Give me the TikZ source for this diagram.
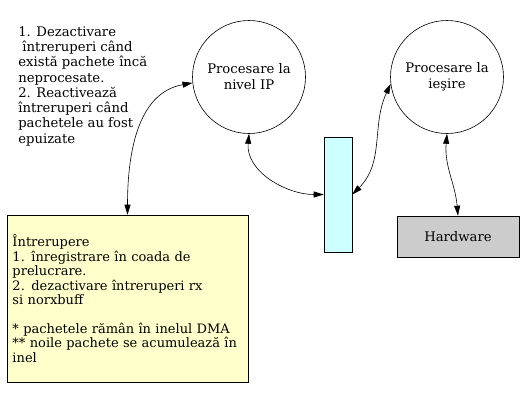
\documentclass[tikz,border=0pt]{standalone}
\usepackage{fontspec}
\setmainfont{DejaVu Serif}
\usetikzlibrary{arrows.meta}
\usetikzlibrary{positioning}

\definecolor{galben}{HTML}{FFFFCC}
\definecolor{cian}{HTML}{CCFFFF}
\definecolor{gri}{HTML}{CCCCCC}

\tikzset{
    every node/.style={font=\fontsize{13.2}{15.3}\selectfont},
    proces/.style={draw, circle, minimum size=113pt, inner sep=0pt, align=center,
        font=\fontsize{13.2}{16}\selectfont},
    coada/.style={draw, fill=cian, minimum width=28pt, minimum height=115pt, inner sep=0pt},
    hwbox/.style={draw, fill=gri, minimum width=122pt, minimum height=41pt, inner sep=0pt},
    notabox/.style={draw, fill=galben, minimum width=241pt, minimum height=167pt,
        inner xsep=5.5pt, text width=230pt, align=left,
        font=\fontsize{13}{14.4}\selectfont},
}

\begin{document}
\begin{tikzpicture}[>={Triangle[length=10pt,width=6pt]}, x=1pt, y=-1pt, line width=0.6pt]

    \useasboundingbox (0,0) rectangle (527,407);

    \node[anchor=north west, align=left, inner sep=0pt] (info) at (18,26)
        {1. Dezactivare\\\ întreruperi când\\există pachete încă\\neprocesate.\\2. Reactivează\\întreruperi când\\pachetele au fost\\epuizate};

    \node[proces] (ip) at (249,77) {Procesare la\\nivel IP};
    \node[proces] (iesire) at (447,77) {Procesare la\\ieşire};
    \node[coada] (q) at (338,194.5) {};
    \node[hwbox] (hw) at (458,236.5) {Hardware};
    \node[notabox] (intr) at (127.5,298.5)
        {Întrerupere\\1. înregistrare în coada de\\prelucrare.\\2. dezactivare întreruperi rx\\si norxbuff\\[14.4pt]* pachetele rămân în inelul DMA\\{}** noile pachete se acumulează în\\inel};

    \draw[<->] (intr.north) to[out=90, in=190] (ip.186);
    \draw[<->] (ip.south) to[out=-95, in=180] (q.west);
    \draw[<->] (q.east) to[out=45, in=245] (iesire.187);
    \draw[<->] (iesire.south) to[out=-95, in=95] (hw.north);

\end{tikzpicture}
\end{document}
